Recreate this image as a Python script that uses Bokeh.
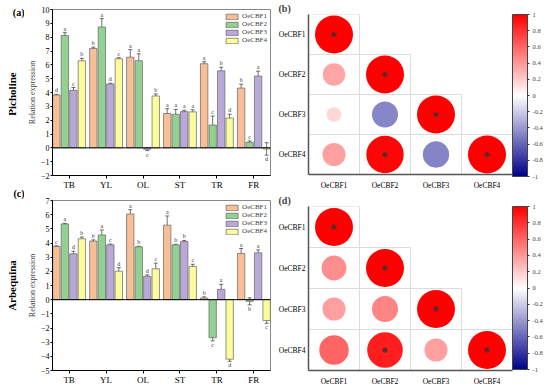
import math
from bokeh.plotting import figure
from bokeh.layouts import column, row
from bokeh.models import (Range1d, FixedTicker, Whisker, TeeHead, ColumnDataSource,
                          Span, LinearColorMapper, ColorBar, CustomJSTickFormatter)
from bokeh.core.properties import value
from bokeh.embed import file_html
from bokeh.resources import INLINE

FONT = "Liberation Serif"

tissues = ["TB", "YL", "OL", "ST", "TR", "FR"]
genes = ["OeCBF1", "OeCBF2", "OeCBF3", "OeCBF4"]
cultivars = ["Picholine", "Arbequina"]
bar_tags = ["(a)", "(c)"]
corr_tags = ["(b)", "(d)"]
bar_colors = ["#F8BE96", "#93D193", "#B9A8D8", "#FCFC9C"]

# ---- Picholine (a) ----
pic_cbf1 = [3.82, 7.18, 6.55, 2.48, 6.08, 4.32]
pic_cbf2 = [8.12, 8.74, 6.30, 2.43, 1.65, 0.40]
pic_cbf3 = [4.16, 4.62, -0.10, 2.62, 5.57, 5.19]
pic_cbf4 = [6.29, 6.44, 3.75, 2.60, 2.15, -0.08]
pic_err1 = [0.05, 0.10, 0.55, 0.35, 0.15, 0.28]
pic_err2 = [0.20, 0.60, 0.50, 0.35, 0.65, 0.10]
pic_err3 = [0.20, 0.05, 0.10, 0.10, 0.25, 0.35]
pic_err4 = [0.18, 0.08, 0.15, 0.15, 0.28, 0.45]
pic_let1 = ["d", "b", "a", "a", "a", "b"]
pic_let2 = ["a", "a", "a", "a", "c", "c"]
pic_let3 = ["c", "d", "c", "a", "b", "a"]
pic_let4 = ["b", "c", "b", "a", "d", "d"]
pic_yticks = list(range(-2, 11))

# ---- Arbequina (c) ----
arb_cbf1 = [3.76, 4.14, 6.05, 5.26, 0.12, 3.26]
arb_cbf2 = [5.35, 4.57, 3.73, 3.87, -2.69, -0.12]
arb_cbf3 = [3.24, 3.87, 1.65, 4.10, 0.73, 3.31]
arb_cbf4 = [4.30, 2.01, 2.18, 2.35, -4.20, -1.47]
arb_err1 = [0.04, 0.08, 0.30, 0.65, 0.08, 0.35]
arb_err2 = [0.04, 0.35, 0.04, 0.04, 0.22, 0.25]
arb_err3 = [0.18, 0.06, 0.10, 0.08, 0.35, 0.20]
arb_err4 = [0.12, 0.25, 0.40, 0.15, 0.15, 0.20]
arb_let1 = ["c", "b", "a", "a", "b", "a"]
arb_let2 = ["a", "a", "b", "b", "c", "b"]
arb_let3 = ["d", "c", "d", "b", "a", "a"]
arb_let4 = ["b", "d", "c", "c", "d", "c"]
arb_yticks = list(range(-5, 8))

# ---- correlations (lower triangle, row i vs column j<=i) ----
corr_b = [[1.0], [0.35, 1.0], [0.15, -0.47, 1.0], [0.37, 0.97, -0.48, 1.0]]
sig_b = [[1], [0, 1], [0, 0, 1], [0, 1, 0, 1]]
corr_d = [[1.0], [0.43, 1.0], [0.37, 0.47, 1.0], [0.60, 0.88, 0.37, 1.0]]
sig_d = [[1], [0, 1], [0, 0, 1], [0, 1, 0, 1]]
cbar_ticks = [-1, -0.8, -0.6, -0.4, -0.2, 0, 0.2, 0.4, 0.6, 0.8, 1]

# ---- layout sizes (pixels) ----
TAG_W = 24
BAR_W = 251
COR_W = 275
H_TOP = 192
H_BOT = 198
BAR_TOP = [9, 8]
BAR_BOT = [14, 20]
COR_BOT = [15, 20]


def bar_panel(series, errs, lets, yticks, height, top, bottom):
    p = figure(width=BAR_W, height=height, x_range=Range1d(-0.45, len(tissues) - 0.55),
               y_range=Range1d(yticks[0], yticks[-1]), output_backend="svg", toolbar_location=None,
               min_border_left=21, min_border_right=5, min_border_top=top, min_border_bottom=bottom,
               outline_line_color="#888888")
    p.grid.visible = False
    offsets = [-0.345, -0.115, 0.115, 0.345]
    for k in range(4):
        xs = [i + offsets[k] for i in range(len(tissues))]
        v = series[k]
        e = errs[k]
        src = ColumnDataSource(dict(
            x=xs, top=v, upper=[a + b for a, b in zip(v, e)], lower=[a - b for a, b in zip(v, e)],
            ty=[a + b if a >= 0 else a - b for a, b in zip(v, e)],
            yoff=[-4 if a >= 0 else 4 for a in v], lab=lets[k]))
        p.vbar(x="x", top="top", bottom=0, width=0.2, source=src, fill_color=bar_colors[k],
               line_color="#666666", line_width=0.7, legend_label=genes[k])
        w = Whisker(base="x", upper="upper", lower="lower", source=src, line_color="#333333",
                    line_width=0.7,
                    upper_head=TeeHead(size=4, line_color="#333333", line_width=0.7),
                    lower_head=TeeHead(size=4, line_color="#333333", line_width=0.7))
        p.add_layout(w)
        p.text(x="x", y="ty", text="lab", y_offset="yoff", source=src, text_font=value(FONT),
               text_font_size="6px", text_align="center", text_baseline="middle", text_color="#333333")
    p.add_layout(Span(location=0, dimension="width", line_color="black", line_width=1))

    p.xaxis.ticker = FixedTicker(ticks=list(range(len(tissues))))
    p.xaxis.major_label_overrides = {i: t for i, t in enumerate(tissues)}
    p.yaxis.ticker = FixedTicker(ticks=yticks)
    for ax in (p.xaxis[0], p.yaxis[0]):
        ax.minor_tick_line_color = None
        ax.major_tick_in = 0
        ax.major_tick_out = 3
        ax.major_label_standoff = 1
        ax.axis_line_color = "black"
        ax.major_tick_line_color = "black"
        ax.major_label_text_font = FONT
        ax.major_label_text_color = "black"
    p.yaxis.major_tick_out = 2
    p.xaxis.major_label_standoff = 1
    p.xaxis.major_label_text_font_size = "9px"
    p.yaxis.major_label_text_font_size = "8px"
    p.yaxis.axis_label = "Relation expression"
    p.yaxis.axis_label_text_font = FONT
    p.yaxis.axis_label_text_font_size = "8px"
    p.yaxis.axis_label_text_font_style = "normal"
    p.yaxis.axis_label_standoff = 1

    lg = p.legend[0]
    lg.location = "top_right"
    lg.label_text_font = FONT
    lg.label_text_font_size = "7px"
    lg.glyph_width = 15
    lg.glyph_height = 7
    lg.label_height = 7
    lg.label_standoff = 3
    lg.spacing = 0
    lg.padding = 1
    lg.margin = 3
    lg.border_line_color = None
    return p


def corr_panel(corr, sig, tag, height, bottom):
    p = figure(width=COR_W, height=height, x_range=Range1d(0.5, len(genes) + 0.5),
               y_range=Range1d(len(genes) + 0.5, 0.5), output_backend="svg", toolbar_location=None,
               min_border_left=33, min_border_right=38, min_border_top=0, min_border_bottom=bottom,
               outline_line_color=None)
    p.title.text = tag
    p.title.align = "left"
    p.title.offset = -30
    p.title.standoff = 1
    p.title.text_font = FONT
    p.title.text_font_size = "10px"
    p.title.text_font_style = "bold"
    p.grid.visible = False
    xs, ys, rs, sz, sx, sy = [], [], [], [], [], []
    for i, rowv in enumerate(corr):
        for j, r in enumerate(rowv):
            xs.append(j + 1)
            ys.append(i + 1)
            rs.append(r)
            sz.append(38 * math.sqrt(abs(r)))
            if sig[i][j]:
                sx.append(j + 1)
                sy.append(i + 1)
    src = ColumnDataSource(dict(x=xs, y=ys, r=rs, s=sz))
    pal = []
    n = 128
    for t in range(n):
        f = t / (n - 1)
        pal.append("#%02x%02x%02x" % (int(255 * f), int(255 * f), int(139 + (255 - 139) * f)))
    for t in range(1, n + 1):
        f = t / n
        pal.append("#%02x%02x%02x" % (255, int(255 * (1 - f)), int(255 * (1 - f))))
    mapper = LinearColorMapper(palette=pal, low=-1, high=1)
    p.rect(x="x", y="y", width=1, height=1, source=src, fill_color=None, line_color="#DCDCDC", line_width=1)
    p.scatter(x="x", y="y", size="s", source=src, fill_color={"field": "r", "transform": mapper},
              line_color=None)
    p.scatter(x=sx, y=sy, marker="asterisk", size=6, line_color="#333333", line_width=1)

    p.xaxis.ticker = FixedTicker(ticks=list(range(1, len(genes) + 1)))
    p.yaxis.ticker = FixedTicker(ticks=list(range(1, len(genes) + 1)))
    ov = {i + 1: g for i, g in enumerate(genes)}
    p.xaxis.major_label_overrides = ov
    p.yaxis.major_label_overrides = ov
    for ax in (p.xaxis[0], p.yaxis[0]):
        ax.major_tick_line_color = None
        ax.minor_tick_line_color = None
        ax.major_tick_out = 0
        ax.major_tick_in = 0
        ax.axis_line_color = "#555555"
        ax.axis_line_width = 1.5
        ax.major_label_text_font = FONT
        ax.major_label_text_font_size = "7.5px"
        ax.major_label_text_color = "black"
    p.xaxis.major_label_standoff = 6
    p.yaxis.major_label_standoff = 3

    fh = height - 13 - bottom
    cb = ColorBar(color_mapper=mapper, width=15, height=fh - 2, ticker=FixedTicker(ticks=cbar_ticks),
                  formatter=CustomJSTickFormatter(code="return tick.toFixed(1).replace(/\\.0$/, '').replace(/^-0$/, '0');"),
                  major_label_text_font=FONT, major_label_text_font_size="6.5px", label_standoff=3,
                  major_tick_line_color="#333333", major_tick_out=2, major_tick_in=0,
                  bar_line_color="#444444", bar_line_width=1, padding=0, margin=0,
                  minor_tick_line_color=None, background_fill_color=None)
    p.add_layout(cb, "right")
    return p


# ---- left strip with panel tags and cultivar names ----
TOT_H = H_TOP + H_BOT
tag = figure(width=TAG_W, height=TOT_H, x_range=Range1d(0, TAG_W), y_range=Range1d(0, TOT_H),
             output_backend="svg", toolbar_location=None, x_axis_location=None, y_axis_location=None,
             min_border_left=0, min_border_right=0, min_border_top=0, min_border_bottom=0,
             outline_line_color=None)
tag.grid.visible = False
frame_top = [BAR_TOP[0], H_TOP + BAR_TOP[1]]
frame_bot = [H_TOP - BAR_BOT[0], TOT_H - BAR_BOT[1]]
tag.text(x=[TAG_W, TAG_W], y=[TOT_H - frame_top[0] - 3, TOT_H - frame_top[1] + 7], text=bar_tags,
         text_font=value(FONT), text_font_size="10px", text_font_style="bold",
         text_align="right", text_baseline="middle", text_color="black")
tag.text(x=[11, 11], y=[TOT_H - (frame_top[k] + frame_bot[k]) / 2 for k in range(2)], text=cultivars,
         angle=math.pi / 2, text_font=value(FONT), text_font_size="11px", text_font_style="bold",
         text_align="center", text_baseline="middle", text_color="black")

pa = bar_panel([pic_cbf1, pic_cbf2, pic_cbf3, pic_cbf4], [pic_err1, pic_err2, pic_err3, pic_err4],
               [pic_let1, pic_let2, pic_let3, pic_let4], pic_yticks, H_TOP, BAR_TOP[0], BAR_BOT[0])
pc = bar_panel([arb_cbf1, arb_cbf2, arb_cbf3, arb_cbf4], [arb_err1, arb_err2, arb_err3, arb_err4],
               [arb_let1, arb_let2, arb_let3, arb_let4], arb_yticks, H_BOT, BAR_TOP[1], BAR_BOT[1])
pb = corr_panel(corr_b, sig_b, corr_tags[0], H_TOP, COR_BOT[0])
pd_ = corr_panel(corr_d, sig_d, corr_tags[1], H_BOT, COR_BOT[1])

layout = row(tag, column(pa, pc), column(pb, pd_))
open("out.html", "w").write(file_html(layout, INLINE))
